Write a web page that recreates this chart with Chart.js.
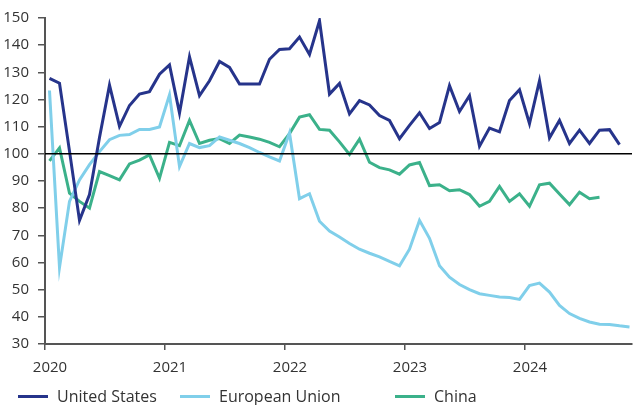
<!DOCTYPE html>
<html>
<head>
<meta charset="utf-8">
<script src="https://cdn.jsdelivr.net/npm/chart.js@4"></script>
<style>
  html, body { margin: 0; padding: 0; background: #fff; }
  #wrap { position: relative; width: 633px; height: 405px; }
  #legend { position: absolute; left: 0; top: 385px; width: 633px; height: 20px;
            font-family: "Open Sans", sans-serif; font-size: 16px; color: #333; }
  .item { position: absolute; top: 0; display: flex; align-items: center; white-space: nowrap; }
  .mark { width: 30px; height: 3px; margin-right: 9px; }
</style>
</head>
<body>
<div id="wrap">
  <canvas id="tradeChart" width="633" height="405"></canvas>
  <div id="legend"></div>
</div>
<script>
// monthly index, Jan 2020 onward
const startYear = 2020;
const yearTicks = [0, 12, 24, 36, 48];
const refLevel = 100;

const seriesNames = ['United States', 'European Union', 'China'];
const seriesColors = ['#26348B', '#80CFEA', '#3BB18A'];

const usValues = [
  127.8, 126, 101, 75.5, 85, 106, 125.3, 110.1, 117.8, 122, 122.9, 129.3,
  132.7, 115, 135.7, 121.4, 126.9, 134, 131.8, 125.7, 125.7, 125.7, 134.8, 138.4,
  138.7, 143, 136.6, 149, 122, 125.9, 114.7, 119.6, 118, 114.1, 112.3, 105.6,
  110.5, 115.1, 109.3, 111.5, 125.1, 115.6, 121.4, 102.8, 109.5, 108.1, 119.6, 123.6,
  111.1, 126.9, 105.9, 112.3, 103.8, 108.7, 103.8, 108.7, 108.9, 103.4
];
const euValues = [
  123.3, 58.2, 82.5, 90.4, 96, 100.8, 105.2, 106.8, 107.1, 109, 109, 109.9,
  121.7, 95.3, 103.8, 102.3, 103, 106.2, 105, 103.8, 102.3, 100.5, 98.9, 97.4,
  107.7, 83.5, 85.3, 75.2, 71.6, 69.4, 67, 64.9, 63.4, 62.1, 60.4, 58.8,
  64.9, 75.5, 68.9, 58.8, 54.6, 51.9, 50, 48.5, 47.9, 47.3, 47.1, 46.4,
  51.5, 52.4, 49.1, 44.2, 41.2, 39.4, 38.1, 37.3, 37.2, 36.7, 36.3
];
const chinaValues = [
  97.4, 102.2, 85.5, 82.5, 80, 93.5, 92, 90.4, 96.3, 97.7, 99.6, 91,
  104.2, 103, 112.3, 103.8, 105, 105.6, 103.8, 106.9, 106.2, 105.4, 104.2, 102.6,
  107.4, 113.5, 114.4, 109, 108.7, 104.4, 99.8, 105.4, 96.9, 94.9, 94.1, 92.5,
  95.9, 96.8, 88.3, 88.6, 86.4, 86.8, 85, 80.7, 82.5, 88, 82.5, 85.3,
  80.7, 88.6, 89.2, 85.2, 81.3, 85.9, 83.5, 84
];

// points sit mid-month
function toPoints(values) {
  return values.map((v, i) => ({ x: i + 0.45, y: v }));
}

const allValues = [usValues, euValues, chinaValues];

const refLine = {
  id: 'refLine',
  afterDatasetsDraw(chart) {
    const { ctx, chartArea, scales } = chart;
    const y = scales.y.getPixelForValue(refLevel);
    ctx.save();
    ctx.strokeStyle = '#000';
    ctx.lineWidth = 1.5;
    ctx.beginPath();
    ctx.moveTo(chartArea.left, y);
    ctx.lineTo(chartArea.right, y);
    ctx.stroke();
    ctx.restore();
  }
};

const tickFont = { family: '"Open Sans", sans-serif', size: 15 };

new Chart(document.getElementById('tradeChart').getContext('2d'), {
  type: 'line',
  data: {
    datasets: seriesNames.map((name, i) => ({
      label: name,
      data: toPoints(allValues[i]),
      borderColor: seriesColors[i],
      backgroundColor: seriesColors[i],
      borderWidth: 3,
      pointRadius: 0,
      tension: 0,
      fill: false
    }))
  },
  options: {
    responsive: false,
    animation: false,
    layout: { padding: { top: 15, right: 1, bottom: 31, left: 0 } },
    plugins: {
      legend: { display: false },
      tooltip: { enabled: false }
    },
    scales: {
      x: {
        type: 'linear',
        min: 0,
        max: 58.7,
        afterFit: s => { s.height = 30; },
        afterBuildTicks: s => { s.ticks = yearTicks.map(v => ({ value: v })); },
        grid: { display: true, drawOnChartArea: false, drawTicks: true, tickLength: 6, color: '#555', lineWidth: 1.5 },
        border: { display: true, color: '#555', width: 2 },
        ticks: {
          color: '#333',
          font: tickFont,
          padding: 9,
          labelOffset: 5,
          maxRotation: 0,
          callback: v => String(startYear + v / 12)
        }
      },
      y: {
        min: 30,
        max: 150,
        afterFit: s => { s.width = 45; },
        grid: { display: true, drawOnChartArea: false, drawTicks: true, tickLength: 7, color: '#555', lineWidth: 1.5 },
        border: { display: true, color: '#555', width: 2 },
        ticks: { stepSize: 10, color: '#333', font: tickFont, padding: 9 }
      }
    }
  },
  plugins: [refLine]
});

// legend
const legend = document.getElementById('legend');
const legendLeft = [18, 180, 395];
seriesNames.forEach((name, i) => {
  const item = document.createElement('div');
  item.className = 'item';
  item.style.left = legendLeft[i] + 'px';
  item.innerHTML = '<span class="mark" style="background:' + seriesColors[i] + '"></span><span>' + name + '</span>';
  legend.appendChild(item);
});
</script>
</body>
</html>
